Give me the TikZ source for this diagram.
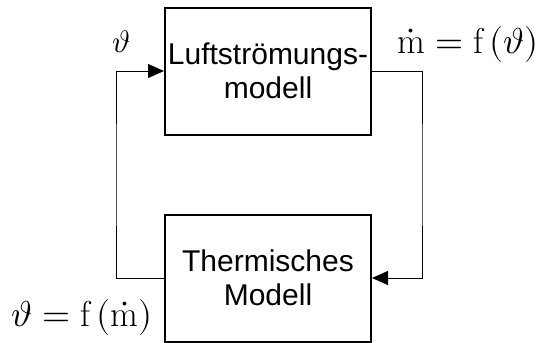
\documentclass[tikz,border=0pt]{standalone}
\usepackage{unicode-math}
\setmathfont{Latin Modern Math}
\newfontfamily\arialfont{Liberation Sans}
\usetikzlibrary{arrows.meta}

\begin{document}
\begin{tikzpicture}[x=1pt,y=-1pt,
        block/.style={draw,line width=2pt,minimum width=206pt,minimum height=127pt,
            align=center,inner sep=0pt,font=\arialfont\fontsize{30}{34}\selectfont},
        link/.style={line width=1pt,-{Triangle[length=16pt,width=14pt]}},
        lab/.style={anchor=base,inner sep=0pt,font=\fontsize{36}{40}\selectfont}]
        \useasboundingbox (0,0) rectangle (547,343);
        \node[block]    at (268,71)     (luft)  {Luftströmungs-\\modell};
        \node[block]    at (268,278)    (therm) {Thermisches\\Modell};
        \coordinate (lbend) at (116,175);
        \coordinate (rbend) at (422,175);
        \draw[link] (therm.west) -| (lbend) |- (luft.west);
        \draw[link] (luft.east) -| (rbend) |- (therm.east);
        \node[lab,font=\fontsize{31}{36}\selectfont] at (122,52) (theta) {$\vartheta$};
        \node[lab]      at (468,53)     (mdot)  {$\dot{\mathrm{m}} = \mathrm{f}\,(\vartheta)$};
        \node[lab]      at (82,326)     (tf)    {$\vartheta = \mathrm{f}\,(\dot{\mathrm{m}})$};
\end{tikzpicture}
\end{document}
